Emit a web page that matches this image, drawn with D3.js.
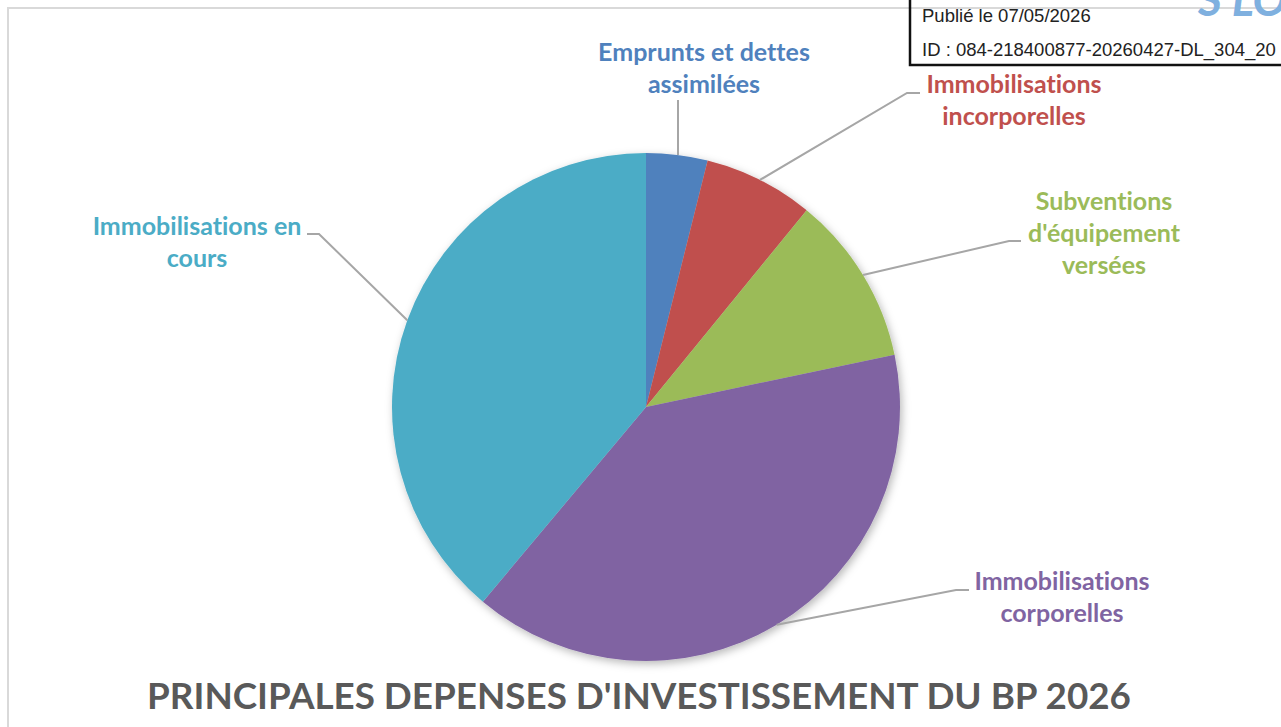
<!DOCTYPE html>
<html>
<head>
<meta charset="utf-8">
<script src="https://cdn.jsdelivr.net/npm/d3@7"></script>
<style>
  body { margin: 0; background: #fff; overflow: hidden; }
  svg { display: block; }
  text { font-variant-ligatures: none; }
</style>
</head>
<body>
<svg id="chart" width="1281" height="727"></svg>
<script>
// data (share of total, %)
const categories = [
  "Emprunts et dettes assimilées",
  "Immobilisations incorporelles",
  "Subventions d'équipement versées",
  "Immobilisations corporelles",
  "Immobilisations en cours"
];
const values = [3.9, 7.0, 10.8, 39.4, 38.9];
const labelLines = [
  ["Emprunts et dettes", "assimilées"],
  ["Immobilisations", "incorporelles"],
  ["Subventions", "d'équipement", "versées"],
  ["Immobilisations", "corporelles"],
  ["Immobilisations en", "cours"]
];
const colors = ["#4f81bd", "#c0504d", "#9bbb59", "#8064a2", "#4bacc6"];
const title = "PRINCIPALES DEPENSES D'INVESTISSEMENT DU BP 2026";

// layout
const width = 1281, height = 727;
const cx = 646, cy = 407, radius = 254;
const fontSize = 25;
const lineH = 32;
// label block centre x, first line y, leader elbow, leader end
const labelLayout = [
  { x: 704, y: 55, elbow: null, end: [678, 100] },
  { x: 1014, y: 87, elbow: [907, 93], end: [920, 93] },
  { x: 1104, y: 204, elbow: [1009, 241], end: [1021, 241] },
  { x: 1062, y: 584, elbow: [956, 590], end: [969, 590] },
  { x: 197, y: 229, elbow: [319, 234], end: [307, 234] }
];

const svg = d3.select("#chart");

// outer chart frame
svg.append("rect")
  .attr("x", 8).attr("y", 8)
  .attr("width", width).attr("height", height)
  .attr("fill", "none")
  .style("stroke", "#d9d9d9")
  .style("stroke-width", 2);

const defs = svg.append("defs");
const shadow = defs.append("filter").attr("id", "shadow")
  .attr("x", "-10%").attr("y", "-10%").attr("width", "120%").attr("height", "120%");
shadow.append("feDropShadow")
  .attr("dx", 2).attr("dy", 3)
  .attr("stdDeviation", 4)
  .attr("flood-color", "#000")
  .attr("flood-opacity", 0.28);

const pie = d3.pie().sort(null).value(d => d);
const arcs = pie(values);
const arc = d3.arc().innerRadius(0).outerRadius(radius);
const edgeArc = d3.arc().innerRadius(radius).outerRadius(radius);

const g = svg.append("g").attr("transform", `translate(${cx},${cy})`);

g.append("g").attr("filter", "url(#shadow)")
  .selectAll("path")
  .data(arcs)
  .join("path")
  .attr("d", arc)
  .attr("fill", (d, i) => colors[i]);

// leader lines
arcs.forEach((d, i) => {
  const p = edgeArc.centroid(d);
  const L = labelLayout[i];
  let pts = [[cx + p[0], cy + p[1]]];
  if (L.elbow) pts.push(L.elbow);
  else pts = [[L.end[0], cy + p[1]]];
  pts.push(L.end);
  svg.append("path")
    .attr("d", d3.line()(pts))
    .attr("fill", "none")
    .style("stroke", "#a6a6a6")
    .style("stroke-width", 2);
});

// labels
labelLines.forEach((lines, i) => {
  const L = labelLayout[i];
  const t = svg.append("text")
    .attr("text-anchor", "middle")
    .style("font-family", "Lato, 'Open Sans', sans-serif")
    .style("font-weight", 700)
    .style("font-size", fontSize + "px")
    .attr("fill", colors[i]);
  lines.forEach((s, k) => {
    t.append("tspan")
      .attr("x", L.x)
      .attr("y", L.y + k * lineH)
      .attr("dominant-baseline", "middle")
      .text(s);
  });
});

// title
svg.append("text")
  .attr("x", 639).attr("y", 700)
  .attr("text-anchor", "middle")
  .attr("dominant-baseline", "middle")
  .style("font-family", "Lato, 'Open Sans', sans-serif")
  .style("font-weight", 700)
  .style("font-size", "36.8px")
  .attr("fill", "#595959")
  .text(title);

// publication stamp (top right)
svg.append("text")
  .attr("x", 1198).attr("y", 16)
  .style("font-family", "Lato, sans-serif")
  .style("font-weight", 700)
  .style("font-style", "italic")
  .style("font-size", "46px")
  .attr("fill", "#7fb0df")
  .text("S LO");

svg.append("rect")
  .attr("x", 910).attr("y", -4)
  .attr("width", 420).attr("height", 69)
  .attr("fill", "#fff")
  .attr("fill-opacity", 0)
  .style("stroke", "#111")
  .style("stroke-width", 2.5);

svg.append("text")
  .attr("x", 922).attr("y", 22)
  .style("font-family", "'Liberation Sans', Arial, sans-serif")
  .style("font-size", "18.5px")
  .attr("fill", "#222")
  .text("Publié le 07/05/2026");

svg.append("text")
  .attr("x", 922).attr("y", 56)
  .style("font-family", "'Liberation Sans', Arial, sans-serif")
  .style("font-size", "18.5px")
  .attr("fill", "#222")
  .text("ID : 084-218400877-20260427-DL_304_20");
</script>
</body>
</html>
